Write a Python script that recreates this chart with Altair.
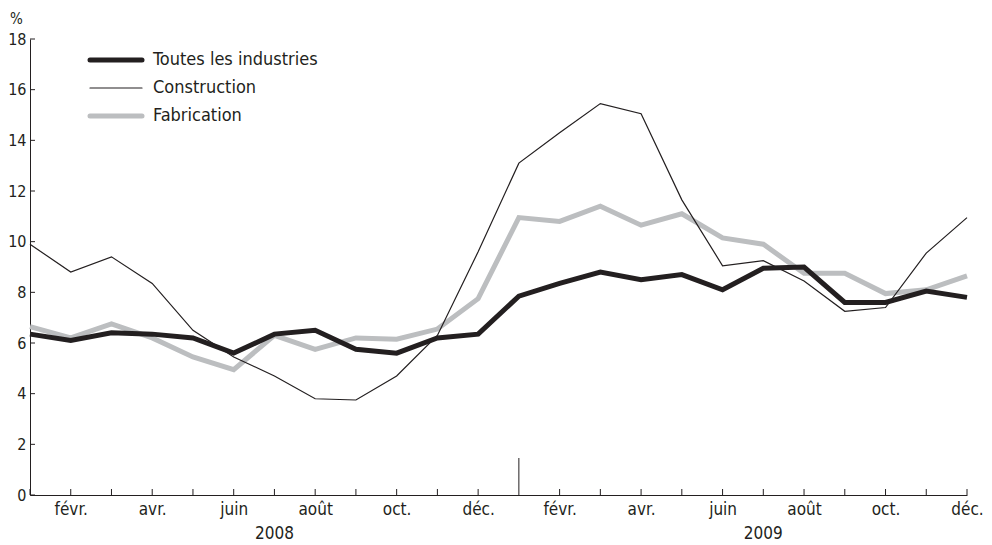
import altair as alt
import pandas as pd

months = ["janv.", "févr.", "mars", "avr.", "mai", "juin", "juil.", "août", "sept.", "oct.", "nov.", "déc.",
          "janv.", "févr.", "mars", "avr.", "mai", "juin", "juil.", "août", "sept.", "oct.", "nov.", "déc."]
years = ["2008", "2009"]
year_pos = [6, 18]

toutes = [6.35, 6.1, 6.4, 6.35, 6.2, 5.6, 6.35, 6.5, 5.75, 5.6, 6.2, 6.35,
          7.85, 8.35, 8.8, 8.5, 8.7, 8.1, 8.95, 9.0, 7.6, 7.6, 8.05, 7.8]
construction = [9.9, 8.8, 9.4, 8.35, 6.5, 5.45, 4.7, 3.8, 3.75, 4.7, 6.3, 9.6,
                13.1, 14.3, 15.45, 15.05, 11.65, 9.05, 9.25, 8.45, 7.25, 7.4, 9.55, 10.95]
fabrication = [6.65, 6.2, 6.75, 6.2, 5.45, 4.95, 6.3, 5.75, 6.2, 6.15, 6.55, 7.75,
               10.95, 10.8, 11.4, 10.65, 11.1, 10.15, 9.9, 8.75, 8.75, 7.95, 8.1, 8.65]

series_names = ["Toutes les industries", "Construction", "Fabrication"]
series_values = [toutes, construction, fabrication]
series_colors = ["#231f20", "#231f20", "#bcbec0"]
series_widths = [5, 1.2, 5]
draw_order = [2, 0, 1]

y_ticks = list(range(0, 19, 2))

FONT = "'Liberation Sans Narrow', 'Arial Narrow', 'DejaVu Sans Condensed', 'Roboto Condensed', sans-serif"
TXT = "#231f20"
W, H = 937, 456

rows = []
for name, vals in zip(series_names, series_values):
    for i, v in enumerate(vals):
        rows.append({"serie": name, "idx": i, "val": v})
df = pd.DataFrame(rows)

label_expr = "[" + ",".join("'" + m + "'" for m in months) + "][datum.value]"
label_expr = "datum.value % 2 == 1 ? " + label_expr + " : ''"

x_scale = alt.Scale(domain=[0, len(months) - 1], nice=False, zero=False)
y_scale = alt.Scale(domain=[0, 18], nice=False)

x_enc = alt.X("idx:Q", scale=x_scale,
              axis=alt.Axis(values=list(range(len(months))), labelExpr=label_expr,
                            ticks=False, tickSize=0, grid=False, title=None,
                            domainColor=TXT, domainWidth=1, labelPadding=6,
                            labelFont=FONT, labelFontSize=17, labelColor=TXT,
                            labelFlush=False, labelOverlap=False))
y_enc = alt.Y("val:Q", scale=y_scale,
              axis=alt.Axis(values=y_ticks, ticks=False, tickSize=0, grid=False,
                            title="%", titleAngle=0, titleX=-14, titleY=-16,
                            titleAlign="center", titleBaseline="alphabetic",
                            titleFont=FONT, titleFontSize=15, titleFontWeight="normal",
                            titleColor=TXT, domainColor=TXT, domainWidth=1,
                            labelPadding=4, labelFont=FONT, labelFontSize=16,
                            labelColor=TXT))

base = alt.Chart(df)
layers = []
for k in draw_order:
    layers.append(
        base.transform_filter(alt.datum.serie == series_names[k])
        .mark_line(color=series_colors[k], strokeWidth=series_widths[k], strokeJoin="miter")
        .encode(x=x_enc, y=y_enc)
    )

# inward y ticks
ytick_df = pd.DataFrame({"val": y_ticks})
layers.append(
    alt.Chart(ytick_df).mark_rule(color=TXT, strokeWidth=1)
    .encode(y=alt.Y("val:Q", scale=y_scale), x=alt.value(0), x2=alt.value(5))
)

# inward x ticks
xtick_df = pd.DataFrame({"idx": [i for i in range(len(months)) if i != 12]})
layers.append(
    alt.Chart(xtick_df).mark_rule(color=TXT, strokeWidth=1)
    .encode(x=alt.X("idx:Q", scale=x_scale), y=alt.value(H), y2=alt.value(H - 6))
)
# year divider tick
layers.append(
    alt.Chart(pd.DataFrame({"idx": [12]})).mark_rule(color=TXT, strokeWidth=1)
    .encode(x=alt.X("idx:Q", scale=x_scale), y=alt.value(H), y2=alt.value(H - 37))
)

# year labels
year_df = pd.DataFrame({"idx": year_pos, "txt": years})
layers.append(
    alt.Chart(year_df).mark_text(font=FONT, fontSize=17, color=TXT, baseline="alphabetic", align="center")
    .encode(x=alt.X("idx:Q", scale=x_scale), y=alt.value(H + 44), text="txt:N")
)

# manual legend
for r, k in enumerate([0, 1, 2]):
    ldf = pd.DataFrame({"serie": [series_names[k]]})
    yy = 21 + 28 * r
    layers.append(
        alt.Chart(ldf).mark_rule(color=series_colors[k], strokeWidth=series_widths[k], strokeCap="round")
        .encode(x=alt.value(60), x2=alt.value(112), y=alt.value(yy))
    )
    layers.append(
        alt.Chart(ldf).mark_text(font=FONT, fontSize=18, color=TXT, align="left", baseline="middle")
        .encode(x=alt.value(123), y=alt.value(yy), text="serie:N")
    )

chart = alt.layer(*layers).properties(
    width=W, height=H,
    autosize=alt.AutoSizeParams(type="none"),
    padding={"left": 22, "top": 31, "right": 17, "bottom": 50},
).configure(background="white").configure_view(stroke=None, strokeWidth=0)

chart.save("out.html", embed_options={"renderer": "svg", "actions": False})
